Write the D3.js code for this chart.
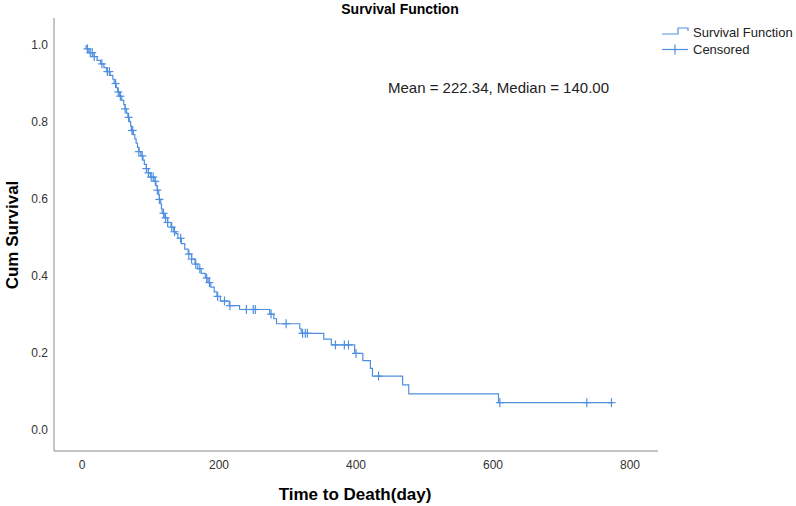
<!DOCTYPE html>
<html>
<head>
<meta charset="utf-8">
<script src="https://cdn.jsdelivr.net/npm/d3@7"></script>
<style>
  body { margin: 0; background: #fff; }
  svg { display: block; font-family: "Liberation Sans", Arial, sans-serif; }
</style>
</head>
<body>
<div id="chart"></div>
<script>
// Kaplan-Meier steps: event time (day) and survival after it
const eventTimes = [6, 10, 16, 22, 27, 32, 36, 41, 45, 47, 50, 52, 55, 58, 61, 63, 65, 67, 69, 71,
  72, 75, 77, 79, 81, 83, 86, 89, 91, 94, 97, 100, 105, 108, 110, 112, 113, 115, 116, 117,
  120, 125, 130, 134, 137, 140, 145, 150, 155, 160, 165, 169, 174, 180, 184, 188, 193, 197, 202, 215,
  230, 274, 280, 284, 318, 320, 353, 364, 398, 410, 421, 424, 468, 477, 608];
const survAfter = [0.99, 0.98, 0.97, 0.96, 0.951, 0.941, 0.931, 0.921, 0.911, 0.9, 0.889, 0.878, 0.867, 0.856, 0.845, 0.834, 0.823, 0.812, 0.801, 0.79,
  0.778, 0.767, 0.756, 0.745, 0.734, 0.723, 0.712, 0.701, 0.69, 0.679, 0.668, 0.657, 0.646, 0.635, 0.623, 0.611, 0.599, 0.587, 0.575, 0.563,
  0.551, 0.539, 0.527, 0.515, 0.51, 0.498, 0.484, 0.47, 0.457, 0.444, 0.431, 0.419, 0.407, 0.395, 0.383, 0.371, 0.359, 0.347, 0.335, 0.323,
  0.313, 0.301, 0.289, 0.276, 0.263, 0.251, 0.236, 0.221, 0.199, 0.18, 0.16, 0.14, 0.117, 0.094, 0.071];
// censored observations (day)
const censorTimes = [8, 12, 15, 18, 29, 37, 40, 49, 53, 56, 63, 68, 73, 74, 83, 88, 94, 97, 101, 104,
  107, 110, 113, 119, 122, 125, 131, 135, 144, 156, 160, 166, 172, 182, 186, 198, 208, 216, 240, 250,
  253, 276, 298, 322, 326, 329, 370, 383, 389, 400, 433, 610, 737, 773];

const xTicks = [0, 200, 400, 600, 800];
const yTicks = [0.0, 0.2, 0.4, 0.6, 0.8, 1.0];
const legendLabels = ["Survival Function", "Censored"];
const chartTitle = "Survival Function";
const note = "Mean = 222.34, Median = 140.00";

const width = 796, height = 506;
const lineColor = "#4f8fe0";

const svg = d3.select("#chart").append("svg")
    .attr("width", width)
    .attr("height", height);

const x = d3.scaleLinear().domain([0, 800]).range([82, 630]);
const y = d3.scaleLinear().domain([0, 1]).range([430, 45]);

// axis frame (left and bottom only)
svg.append("line")
    .attr("x1", 54).attr("x2", 54).attr("y1", 18).attr("y2", 451)
    .attr("stroke", "#8a8a8a").attr("stroke-width", 1);
svg.append("line")
    .attr("x1", 54).attr("x2", 658).attr("y1", 451).attr("y2", 451)
    .attr("stroke", "#8a8a8a").attr("stroke-width", 1);

svg.append("g")
    .selectAll("text")
    .data(yTicks)
    .join("text")
    .attr("x", 48)
    .attr("y", d => y(d))
    .attr("dy", "0.35em")
    .attr("text-anchor", "end")
    .attr("font-size", 12)
    .attr("fill", "#333")
    .text(d => d3.format(".1f")(d));

svg.append("g")
    .selectAll("text")
    .data(xTicks)
    .join("text")
    .attr("x", d => x(d))
    .attr("y", 469)
    .attr("text-anchor", "middle")
    .attr("font-size", 12)
    .attr("fill", "#333")
    .text(d => d);

// step function
function survivalAt(t) {
    let s = 1;
    for (let i = 0; i < eventTimes.length; i++) {
        if (eventTimes[i] <= t) s = survAfter[i];
    }
    return s;
}

const lastTime = d3.max(censorTimes);
const pts = [[eventTimes[0], 1]].concat(eventTimes.map((t, i) => [t, survAfter[i]]));
pts.push([lastTime, survAfter[survAfter.length - 1]]);

const line = d3.line()
    .x(d => x(d[0]))
    .y(d => y(d[1]))
    .curve(d3.curveStepAfter);

svg.append("path")
    .datum(pts)
    .attr("d", line)
    .attr("fill", "none")
    .attr("stroke", lineColor)
    .attr("stroke-width", 1.2);

const cens = svg.append("g")
    .attr("stroke", lineColor)
    .attr("stroke-width", 1.2)
    .selectAll("g")
    .data(censorTimes)
    .join("g")
    .attr("transform", d => `translate(${x(d)},${y(survivalAt(d))})`);
cens.append("line").attr("x1", -4).attr("x2", 4);
cens.append("line").attr("y1", -4.5).attr("y2", 4.5);

// title and axis labels
svg.append("text")
    .attr("x", 400).attr("y", 14)
    .attr("text-anchor", "middle")
    .attr("font-size", 14)
    .attr("font-weight", "bold")
    .text(chartTitle);

svg.append("text")
    .attr("transform", "translate(18,235) rotate(-90)")
    .attr("text-anchor", "middle")
    .attr("font-size", 17)
    .attr("font-weight", "bold")
    .text("Cum Survival");

svg.append("text")
    .attr("x", 355).attr("y", 500)
    .attr("text-anchor", "middle")
    .attr("font-size", 17)
    .attr("font-weight", "bold")
    .text("Time to Death(day)");

svg.append("text")
    .attr("x", 388).attr("y", 93)
    .attr("font-size", 15)
    .attr("fill", "#222")
    .text(note);

// legend
const legend = svg.append("g");
legend.append("path")
    .attr("d", "M662,34H678V28H688V31")
    .attr("fill", "none")
    .attr("stroke", lineColor)
    .attr("stroke-width", 1.2);
legend.append("line")
    .attr("x1", 662).attr("x2", 688).attr("y1", 49.5).attr("y2", 49.5)
    .attr("stroke", lineColor).attr("stroke-width", 1.2);
legend.append("line")
    .attr("x1", 675).attr("x2", 675).attr("y1", 44.5).attr("y2", 54.5)
    .attr("stroke", lineColor).attr("stroke-width", 1.2);
legend.selectAll("text")
    .data(legendLabels)
    .join("text")
    .attr("x", 693)
    .attr("y", (d, i) => 37 + i * 17)
    .attr("font-size", 13)
    .attr("fill", "#222")
    .text(d => d);
</script>
</body>
</html>
